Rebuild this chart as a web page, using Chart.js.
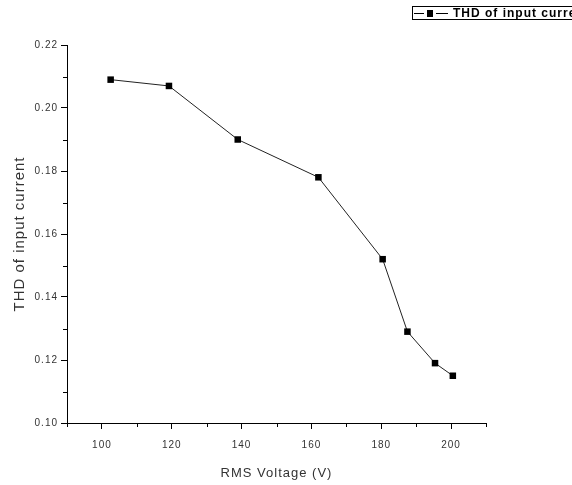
<!DOCTYPE html>
<html>
<head>
<meta charset="utf-8">
<script src="https://cdn.jsdelivr.net/npm/chart.js@4.4.0/dist/chart.umd.min.js"></script>
<style>
  html, body { margin: 0; padding: 0; background: #fff; }
  #wrap { width: 572px; height: 485px; }
</style>
</head>
<body>
<div id="wrap"><canvas id="thdChart" width="572" height="485"></canvas></div>
<script>
// RMS voltage (V) and measured THD of the input current
const voltage = [102.5, 119.2, 138.9, 162.0, 180.4, 187.5, 195.4, 200.5];
const thd = [0.209, 0.207, 0.190, 0.178, 0.152, 0.129, 0.119, 0.115];
const seriesName = "THD of input current";
const xTitle = "RMS Voltage (V)";

const points = voltage.map((v, i) => ({ x: v, y: thd[i] }));

// short ticks for the unlabelled (minor) steps
const minorTicks = {
  id: "minorTicks",
  afterDraw(chart) {
    const ctx = chart.ctx;
    const xs = chart.scales.x, ys = chart.scales.y;
    ctx.save();
    ctx.strokeStyle = "#000";
    ctx.lineWidth = 1;
    ctx.beginPath();
    ys.ticks.forEach((t, i) => {
      if (i % 2 === 1) {
        const y = Math.round(ys.getPixelForValue(t.value)) + 0.5;
        ctx.moveTo(ys.right - 4, y);
        ctx.lineTo(ys.right, y);
      }
    });
    xs.ticks.forEach((t, i) => {
      if (i % 2 === 0) {
        const x = Math.round(xs.getPixelForValue(t.value)) + 0.5;
        ctx.moveTo(x, xs.top);
        ctx.lineTo(x, xs.top + 4);
      }
    });
    ctx.stroke();
    ctx.restore();
  }
};

// boxed legend in the top right corner, running off the edge
const boxLegend = {
  id: "boxLegend",
  afterDraw(chart) {
    const ctx = chart.ctx;
    ctx.save();
    ctx.strokeStyle = "#000";
    ctx.lineWidth = 1;
    ctx.strokeRect(412.5, 6.5, 200, 13);
    ctx.beginPath();
    ctx.moveTo(414, 13.5);
    ctx.lineTo(424, 13.5);
    ctx.moveTo(436, 13.5);
    ctx.lineTo(448, 13.5);
    ctx.stroke();
    ctx.fillStyle = "#000";
    ctx.fillRect(427, 10, 6, 7);
    ctx.font = "bold 12px 'Liberation Sans', Arial, sans-serif";
    ctx.textBaseline = "middle";
    ctx.fillText(chart.data.datasets[0].label, 453, 13.5);
    ctx.restore();
  }
};

const spacing = {
  id: "spacing",
  beforeDraw(chart) { chart.ctx.letterSpacing = "1px"; }
};

Chart.defaults.font.family = "'Liberation Sans', Arial, sans-serif";

new Chart(document.getElementById("thdChart").getContext("2d"), {
  type: "line",
  data: {
    datasets: [{
      label: seriesName,
      data: points,
      borderColor: "#222",
      borderWidth: 1,
      pointStyle: "rect",
      pointRadius: 4.6,
      pointBackgroundColor: "#000",
      pointBorderWidth: 0,
      tension: 0
    }]
  },
  options: {
    responsive: false,
    animation: false,
    layout: { padding: { top: 45, right: 86, left: 0, bottom: 0 } },
    plugins: { legend: { display: false }, tooltip: { enabled: false } },
    scales: {
      x: {
        type: "linear",
        min: 90,
        max: 210,
        afterFit(s) { s.height = 62; },
        border: { display: true, color: "#000", width: 1 },
        grid: { drawOnChartArea: false, tickLength: 6,
          tickColor: c => (c.index % 2 === 1 ? "#000" : "rgba(0,0,0,0)") },
        ticks: {
          stepSize: 10,
          autoSkip: false,
          maxRotation: 0,
          padding: 10,
          color: "#333",
          font: { size: 10 },
          callback: v => (v % 20 === 0 ? String(v) : "")
        },
        title: { display: true, text: xTitle, color: "#333", font: { size: 13 }, padding: { top: 3 } }
      },
      y: {
        min: 0.10,
        max: 0.22,
        afterFit(s) { s.width = 67; },
        border: { display: true, color: "#000", width: 1 },
        grid: { drawOnChartArea: false, tickLength: 6,
          tickColor: c => (c.index % 2 === 0 ? "#000" : "rgba(0,0,0,0)") },
        ticks: {
          stepSize: 0.01,
          autoSkip: false,
          padding: 3,
          color: "#333",
          font: { size: 10 },
          callback: v => (Math.round(v * 100) % 2 === 0 ? v.toFixed(2) : "")
        },
        title: { display: true, text: seriesName, color: "#333", font: { size: 15 }, padding: { top: 11, bottom: 0 } }
      }
    }
  },
  plugins: [spacing, minorTicks, boxLegend]
});
</script>
</body>
</html>
